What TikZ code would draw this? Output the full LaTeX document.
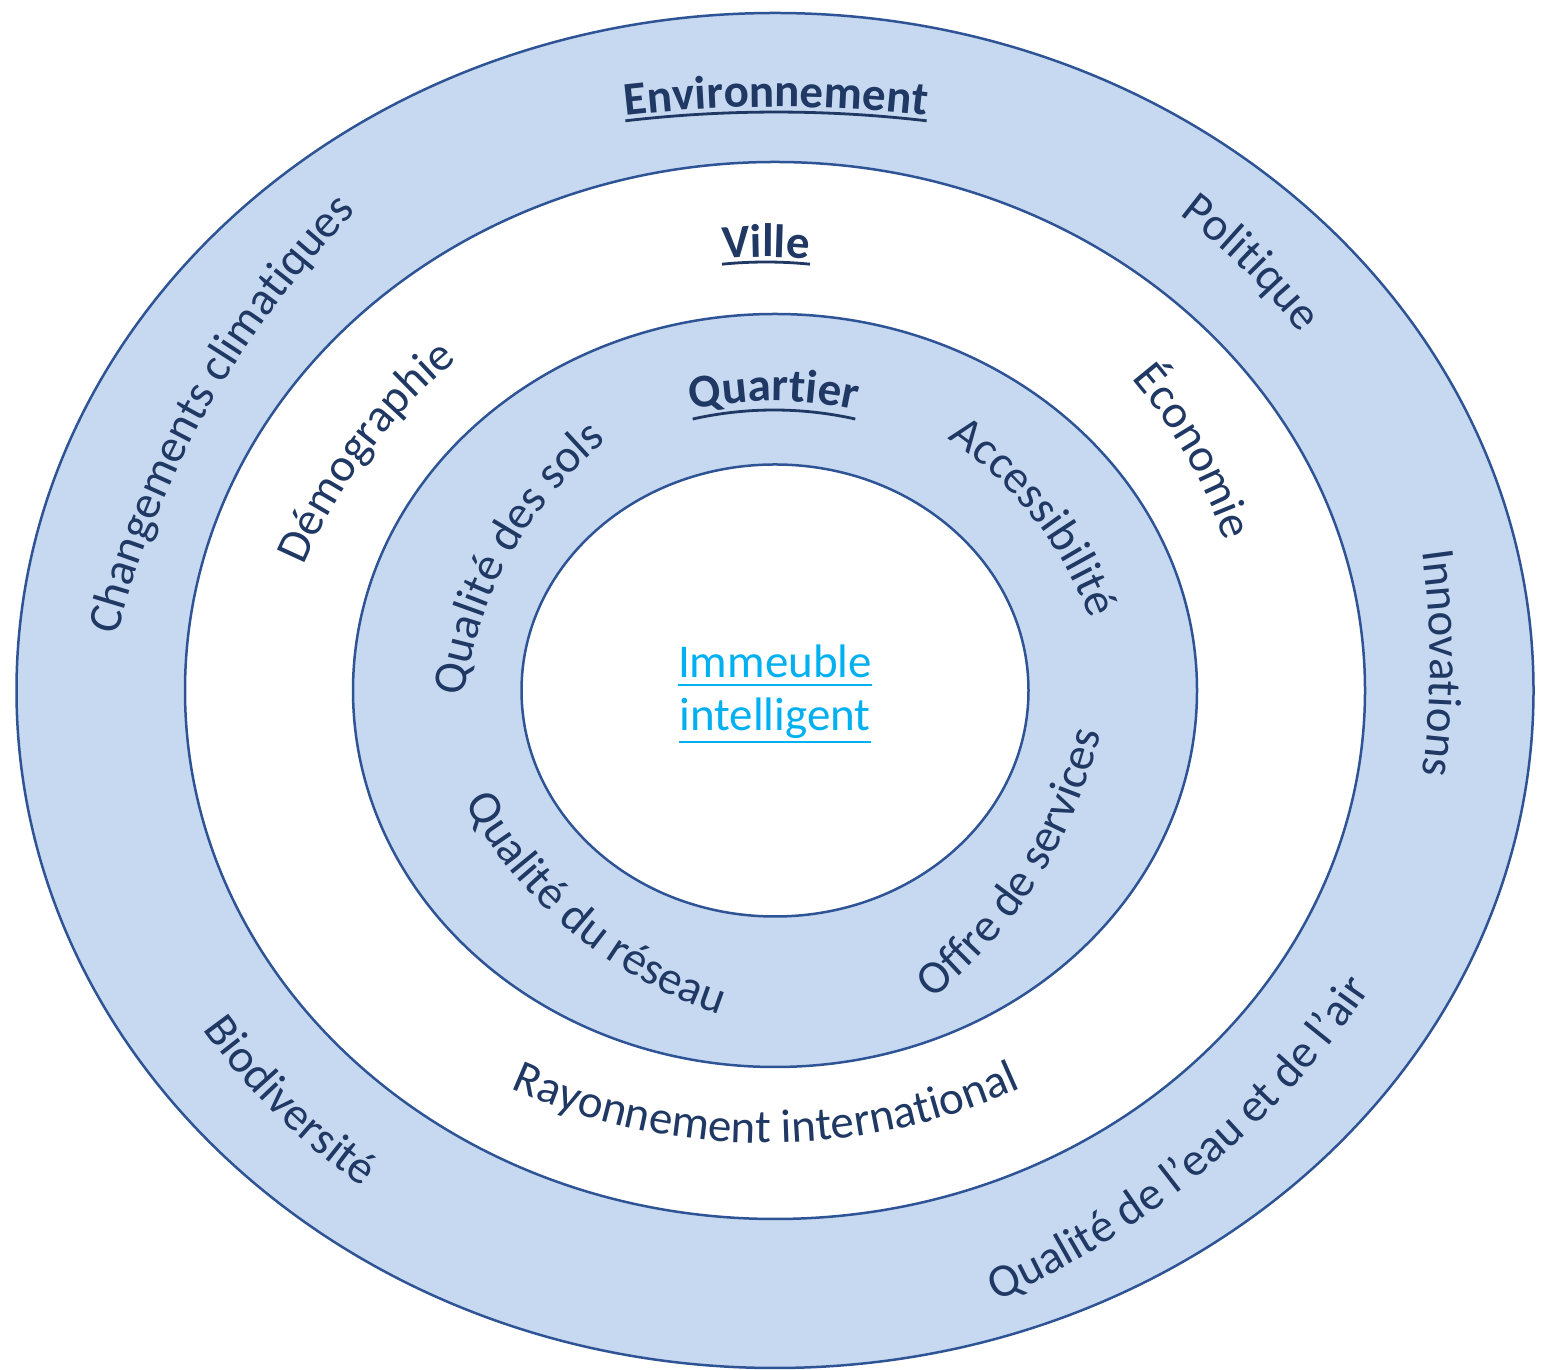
\documentclass[tikz,border=0pt]{standalone}
\usepackage{fontspec}
\setmainfont{Carlito}
\usetikzlibrary{decorations.text,calc}
\definecolor{bandfill}{RGB}{198,217,240}
\definecolor{ringline}{RGB}{47,84,150}
\definecolor{txtblue}{RGB}{31,56,100}
\definecolor{coreblue}{RGB}{0,176,240}
\newcommand\lblfont{\fontsize{23.5}{28}\selectfont\color{txtblue}}
\newcommand\ttlfont{\fontsize{23.5}{28}\selectfont\bfseries\color{txtblue}}
% text along a circular arc, letters pointing away from the arc centre
% #1,#2 baseline middle (x, y from top), #3 upward direction, #4 radius
\newcommand\cwtext[6]{%
  \path[decorate,decoration={text along path,text align=center,text={|#5|#6}}]
    ($(#1,{1370-#2})+({#3+180}:#4)+({#3+50}:#4)$)
    arc[start angle={#3+50}, end angle={#3-50}, radius=#4];}
% text along a circular arc, letters pointing towards the arc centre
% #3 is the direction from the arc centre to the baseline middle
\newcommand\ccwtext[6]{%
  \path[decorate,decoration={text along path,text align=center,text={|#5|#6}}]
    ($(#1,{1370-#2})+({#3+180}:#4)+({#3-50}:#4)$)
    arc[start angle={#3-50}, end angle={#3+50}, radius=#4];}
\begin{document}
\begin{tikzpicture}[x=0.5pt,y=0.5pt,
  ring/.style={draw=ringline, line width=1.25pt},
  uline/.style={draw=txtblue, line width=1.4pt},
  core/.style={font=\fontsize{23.5}{28}\selectfont, text=coreblue, inner sep=0pt, anchor=base},
  coreline/.style={draw=coreblue, line width=1.3pt}]
\useasboundingbox (0,0) rectangle (1552,1370);
\fill[white] (0,0) rectangle (1552,1370);
\coordinate (c) at (775,679.5);

% concentric rings
\path[ring, fill=bandfill] (c) ellipse [x radius=758.5, y radius=677.5];
\path[ring, fill=white]    (c) ellipse [x radius=590,   y radius=528.5];
\path[ring, fill=bandfill] (c) ellipse [x radius=422,   y radius=376.5];
\path[ring, fill=white]    (c) ellipse [x radius=253.5, y radius=226];

% outer ring: Environnement
\cwtext{776}{107}{90}{1300}{\ttlfont}{Environnement}
\draw[uline] ($(776,-37)+(96.68:1295)$) arc[start angle=96.68, end angle=83.32, radius=1295];
\cwtext{209}{408}{150.6}{950}{\lblfont}{Changements climatiques}
\cwtext{1244}{270}{45.5}{650}{\lblfont}{Politique}
\cwtext{1430}{663}{0}{800}{\lblfont}{Innovations}
\ccwtext{1205}{1171}{309.8}{900}{\lblfont}{Qualité de l’eau et de l’air}
\ccwtext{276}{1115}{225.4}{650}{\lblfont}{Biodiversité}

% middle ring: Ville
\cwtext{766}{257}{90}{450}{\ttlfont}{Ville}
\draw[uline] ($(766,663)+(95.67:445)$) arc[start angle=95.67, end angle=84.33, radius=445];
\cwtext{368}{454}{143.3}{550}{\lblfont}{Démographie}
\cwtext{1186}{456}{29.8}{500}{\lblfont}{Économie}
\ccwtext{766}{1143}{270}{620}{\lblfont}{Rayonnement international}

% inner ring: Quartier
\cwtext{774}{401}{90}{380}{\ttlfont}{Quartier}
\draw[uline] ($(774,589)+(102.66:371)$) arc[start angle=102.66, end angle=77.34, radius=371];
\cwtext{511}{555}{150.8}{400}{\lblfont}{Qualité des sols}
\cwtext{1033}{518}{38.2}{380}{\lblfont}{Accessibilité}
\ccwtext{572}{933}{230.2}{450}{\lblfont}{Qualité du réseau}
\ccwtext{1039}{880}{327.7}{480}{\lblfont}{Offre de services}

% core
\node[core] (imm1) at (775,{1370-678}) {Immeuble};
\node[core] (imm2) at (775,{1370-731}) {intelligent};
\draw[coreline] ([yshift=-3.5pt]imm1.base west) -- ([yshift=-3.5pt]imm1.base east);
\draw[coreline] ([yshift=-5.5pt]imm2.base west) -- ([yshift=-5.5pt]imm2.base east);
\end{tikzpicture}
\end{document}
